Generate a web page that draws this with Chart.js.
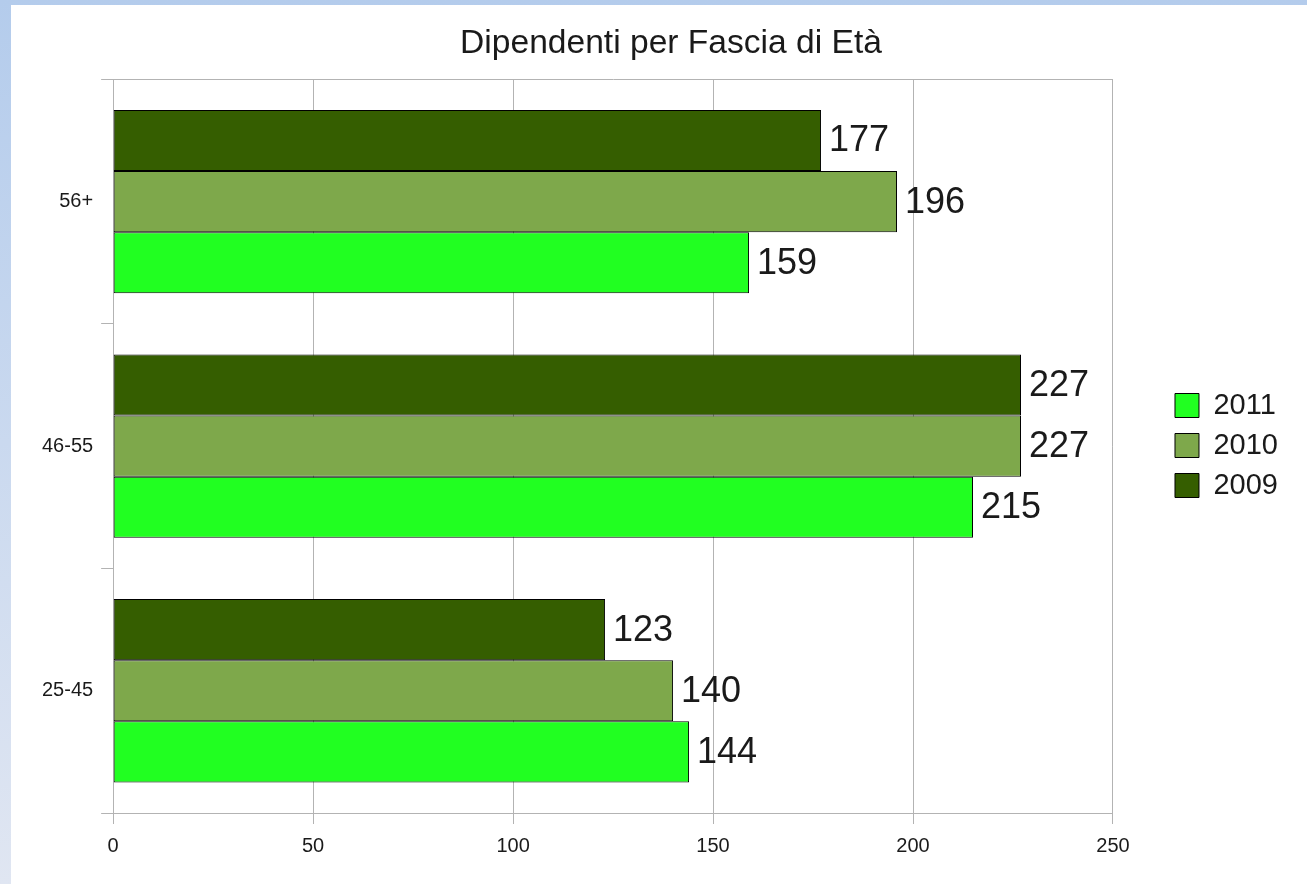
<!DOCTYPE html>
<html>
<head>
<meta charset="utf-8">
<script src="https://cdn.jsdelivr.net/npm/chart.js@4"></script>
<style>
  html, body { margin: 0; padding: 0; width: 1307px; height: 884px; overflow: hidden; }
  body { background: linear-gradient(to bottom, #b4ccec, #e0e6f2); }
  #panel { position: absolute; left: 11px; top: 5px; width: 1296px; height: 879px; background: #fff; }
</style>
</head>
<body>
<div id="panel"><canvas id="chart" width="1296" height="879"></canvas></div>
<script>
'use strict';

// categories, top to bottom
const categories = ['56+', '46-55', '25-45'];
const years = ['2009', '2010', '2011'];
const values2009 = [177, 227, 123];
const values2010 = [196, 227, 140];
const values2011 = [159, 215, 144];
const xTicks = [0, 50, 100, 150, 200, 250];

const COLORS = { '2009': '#355e00', '2010': '#7ea84b', '2011': '#21ff21' };
const FONT = "'Liberation Sans', Arial, sans-serif";
const GRID = '#b3b3b3';
const LEGEND_GAP = 51;     // empty space between plot and legend
const LEGEND_SHIFT_Y = 9;  // legend items sit a bit lower than Chart.js centres them
const TITLE_SHIFT_X = 10;  // title is centred slightly right of the canvas centre

const seriesByYear = { '2009': values2009, '2010': values2010, '2011': values2011 };

// value at the end of each bar
const barLabels = {
  id: 'barLabels',
  afterDatasetsDraw(chart) {
    const ctx = chart.ctx;
    ctx.save();
    ctx.font = '36px ' + FONT;
    ctx.fillStyle = '#1a1a1a';
    ctx.textAlign = 'left';
    ctx.textBaseline = 'middle';
    chart.data.datasets.forEach((ds, i) => {
      chart.getDatasetMeta(i).data.forEach((bar, j) => {
        ctx.fillText(String(ds.data[j]), bar.x + 8, bar.y + 1);
      });
    });
    ctx.restore();
  },
};

// widen the legend box and push its items right, so the plot ends earlier
const legendGap = {
  id: 'legendGap',
  beforeLayout(chart) {
    const lg = chart.legend;
    if (lg && !lg._gapPatched) {
      const fit = lg.fit;
      lg.fit = function () { fit.call(this); this.width += LEGEND_GAP; };
      lg._gapPatched = true;
    }
  },
  afterLayout(chart) {
    if (chart.legend) {
      chart.legend.left += LEGEND_GAP;
      chart.legend.top += LEGEND_SHIFT_Y;
      chart.legend.bottom += LEGEND_SHIFT_Y;
    }
    if (chart.titleBlock) {
      chart.titleBlock.left += TITLE_SHIFT_X;
      chart.titleBlock.right += TITLE_SHIFT_X;
    }
  },
};

const datasets = years.map((y) => ({
  label: y,
  data: seriesByYear[y],
  backgroundColor: COLORS[y],
  borderColor: '#000',
  borderWidth: 1,
  borderSkipped: false,
  categoryPercentage: 0.75,
  barPercentage: 1,
}));

new Chart(document.getElementById('chart'), {
  type: 'bar',
  data: { labels: categories, datasets },
  plugins: [barLabels, legendGap],
  options: {
    indexAxis: 'y',
    responsive: false,
    animation: false,
    layout: { padding: { left: 23, bottom: 16, right: 19 } },
    plugins: {
      title: {
        display: true,
        text: 'Dipendenti per Fascia di Età',
        color: '#1a1a1a',
        font: { family: FONT, size: 33.6, weight: 'normal' },
        padding: { top: 19, bottom: 15 },
      },
      legend: {
        position: 'right',
        reverse: true,
        labels: {
          color: '#1a1a1a',
          font: { family: FONT, size: 29 },
          boxWidth: 24,
          boxHeight: 24,
          padding: 11,
        },
      },
      tooltip: { enabled: false },
    },
    scales: {
      x: {
        min: 0,
        max: 250,
        afterBuildTicks: (s) => { s.ticks = xTicks.map((v) => ({ value: v })); },
        grid: { color: GRID, tickLength: 11, tickColor: GRID },
        border: { color: GRID },
        ticks: { color: '#1a1a1a', font: { family: FONT, size: 20 }, padding: 10 },
      },
      y: {
        grid: {
          offset: true,
          tickLength: 12,
          tickColor: GRID,
          color: (c) => (c.index === 0 || c.index === categories.length ? GRID : 'rgba(0,0,0,0)'),
        },
        border: { color: GRID },
        ticks: { color: '#1a1a1a', font: { family: FONT, size: 20 }, padding: 8 },
      },
    },
  },
});
</script>
</body>
</html>
